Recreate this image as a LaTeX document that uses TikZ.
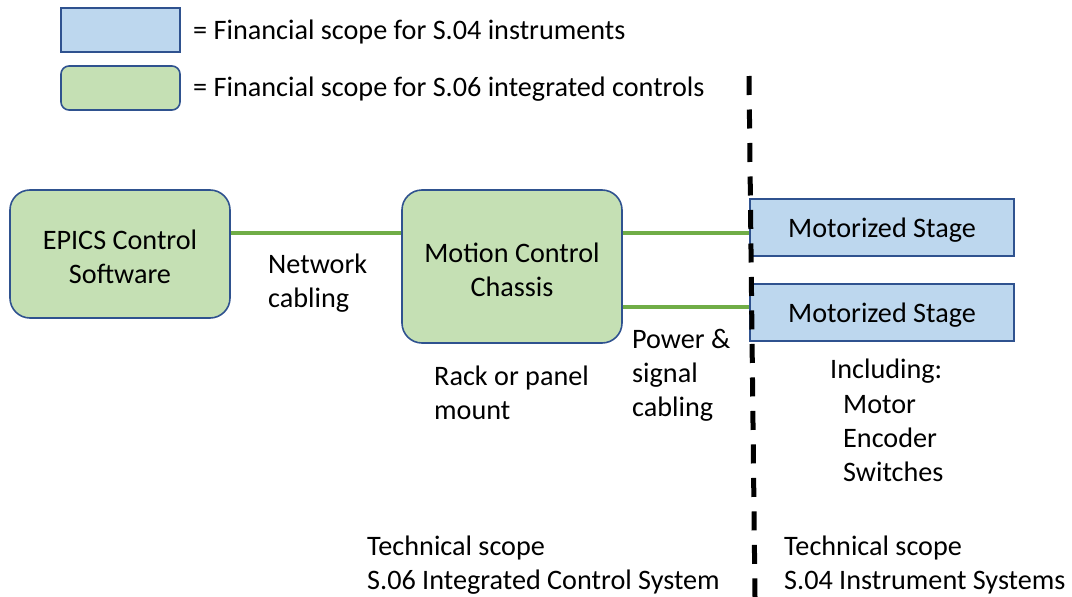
\documentclass[tikz,border=0pt]{standalone}
\usepackage{fontspec}
\setmainfont{Carlito}
\begin{document}
\begin{tikzpicture}[x=1pt,y=-1pt,
  every node/.style={font=\fontsize{28.2}{34}\selectfont},
  greenbox/.style={draw=boxedge,fill=greenfill,line width=1.6pt,rounded corners=20pt,inner sep=0pt},
  bluebox/.style={draw=boxedge,fill=bluefill,line width=1.6pt,inner sep=0pt},
  boxtext/.style={align=center,inner sep=0pt,yshift=-3pt},
  lbl/.style={anchor=west,align=left,inner sep=0pt},
  cable/.style={draw=cablegreen,line width=4pt},
  divider/.style={draw=black,line width=5pt,dash pattern=on 19pt off 14.5pt}]
\definecolor{boxedge}{HTML}{2F528F}
\definecolor{greenfill}{HTML}{C5E0B4}
\definecolor{bluefill}{HTML}{BDD7EE}
\definecolor{cablegreen}{HTML}{70AD47}
\useasboundingbox (0,0) rectangle (1072,597);
% legend
\node[bluebox,minimum width=119pt,minimum height=44pt] (legb) at (120.5,30) {};
\node[greenbox,rounded corners=8pt,minimum width=119pt,minimum height=44pt] (legg) at (120.5,88) {};
\node[lbl] (legbt) at (193,32) {= Financial scope for S.04 instruments};
\node[lbl] (leggt) at (193,89) {= Financial scope for S.06 integrated controls};
% boxes
\node[greenbox,minimum width=220pt,minimum height=128pt,label={[boxtext]center:EPICS Control\\Software}] (epics) at (120,254) {};
\node[greenbox,minimum width=220pt,minimum height=153pt,label={[boxtext]center:Motion Control\\Chassis}] (chassis) at (512,266.5) {};
\node[bluebox,minimum width=264pt,minimum height=57pt,label={[boxtext]center:Motorized Stage}] (stage1) at (882,227.5) {};
\node[bluebox,minimum width=264pt,minimum height=57pt,label={[boxtext]center:Motorized Stage}] (stage2) at (882,312.5) {};
% cables
\coordinate (c1) at (0,233);
\coordinate (c2) at (0,307);
\draw[cable] (epics.east |- c1) -- (chassis.west |- c1);
\draw[cable] (chassis.east |- c1) -- (stage1.west |- c1);
\draw[cable] (chassis.east |- c2) -- (stage2.west |- c2);
% divider
\coordinate (dtop) at (749,76);
\coordinate (dbot) at (755,597);
\draw[divider] (dtop) -- (dbot);
% labels
\node[lbl] (net) at (268,283) {Network\\cabling};
\node[lbl] (rack) at (434,393) {Rack or panel\\mount};
\node[lbl] (power) at (632,375) {Power \&\\signal\\cabling};
\node[lbl] (incl) at (830,371) {Including:};
\node[lbl] (parts) at (843,439) {Motor\\Encoder\\Switches};
\node[lbl] (tech6) at (367,565) {Technical scope\\S.06 Integrated Control System};
\node[lbl] (tech4) at (784,565) {Technical scope\\S.04 Instrument Systems};
\end{tikzpicture}
\end{document}
